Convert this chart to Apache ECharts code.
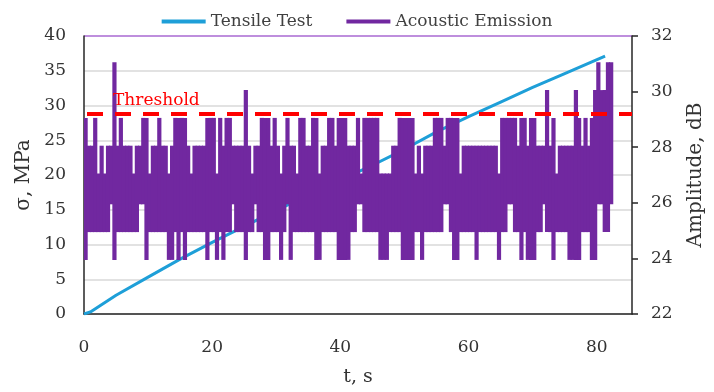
<!DOCTYPE html>
<html>
<head>
<meta charset="utf-8">
<script src="https://cdn.jsdelivr.net/npm/echarts@6/dist/echarts.min.js"></script>
<style>
html,body{margin:0;padding:0;background:#fff;}
#chart{width:714px;height:392px;}
</style>
</head>
<body>
<div id="chart"></div>
<script>
// ---- data ----
const legendNames = ['Tensile Test', 'Acoustic Emission'];
const xTicks = [0, 20, 40, 60, 80];
const leftTicks = [0, 5, 10, 15, 20, 25, 30, 35, 40];
const rightTicks = [22, 24, 26, 28, 30, 32];

// Tensile test: time (s) and stress (MPa)
const tensileTime = [0, 1, 5, 10, 15, 20, 25, 30, 35, 40, 45, 50, 55, 60, 65, 70, 75, 81.3];
const tensileStress = [0, 0.3, 2.7, 5.3, 7.9, 10.3, 12.6, 14.9, 17.1, 19.3, 21.4, 23.7, 26.2, 28.4, 30.5, 32.6, 34.6, 37.1];

// Acoustic emission amplitude (dB): minimum and maximum reached in each 0.5 s window
const aeBinWidth = 0.5;
const aeLow = [
  24,25,25,25,25,25,25,25,26,24,
  25,25,25,25,25,25,25,26,26,24,
  25,25,25,25,25,25,24,24,25,24,
  25,24,25,25,25,25,25,25,24,25,
  25,24,25,24,25,25,26,25,25,25,
  24,25,25,26,25,25,24,24,25,25,
  25,24,25,26,24,25,25,25,25,25,
  25,25,24,24,25,25,25,25,25,24,
  24,24,24,25,25,26,26,25,25,25,
  25,25,24,24,24,25,25,25,25,24,
  24,24,24,25,25,24,25,25,25,25,
  25,25,26,26,25,24,24,25,25,25,
  25,25,24,25,25,25,25,25,25,24,
  25,25,26,26,25,25,24,25,24,24,
  24,25,25,26,25,25,24,25,25,25,
  25,24,24,24,24,25,25,25,24,24,
  26,26,25,25,26
];
const aeHigh = [
  29,28,28,29,27,28,27,28,28,31,
  28,29,28,28,28,27,28,28,29,29,
  27,28,28,29,28,28,27,28,29,29,
  29,29,28,27,28,28,28,28,29,29,
  29,27,29,28,29,29,28,28,28,28,
  30,28,27,28,28,29,29,29,28,29,
  28,27,28,29,28,28,27,29,29,28,
  28,29,29,27,28,28,29,29,28,29,
  29,29,28,28,28,29,27,29,29,29,
  29,29,27,27,27,27,28,28,29,29,
  29,29,29,27,28,27,28,28,28,29,
  29,29,28,29,29,29,29,27,28,28,
  28,28,28,28,28,28,28,28,28,27,
  29,29,29,29,29,28,29,29,28,29,
  29,28,28,28,30,28,29,27,28,28,
  28,28,28,30,29,28,29,28,29,30,
  31,30,30,31,31
];

const thresholdDb = 29.2;

// ---- build series ----
const tensileData = tensileTime.map((t, i) => [t, tensileStress[i]]);
const aeData = aeLow.map((lo, i) => [i * aeBinWidth, lo, aeHigh[i]]);

const FONT = 'DejaVu Serif';
const TXT = '#333333';
const AXIS = '#262626';
const AE_COLOR = '#7128a0';
const AE_LINE = 3; // stroke thickness of the emission trace in px

const chart = echarts.init(document.getElementById('chart'), null, {renderer: 'canvas'});
chart.setOption({
  animation: false,
  backgroundColor: '#ffffff',
  legend: {
    data: legendNames,
    top: 8,
    left: 'center',
    icon: 'rect',
    itemWidth: 44,
    itemHeight: 4,
    itemGap: 34,
    textStyle: {fontFamily: FONT, fontSize: 17, color: '#404040'}
  },
  grid: {left: 84, right: 74, top: 36, bottom: 76, containLabel: false},
  xAxis: {
    type: 'value',
    min: 0,
    max: 85.5,
    interval: 20,
    name: 't, s',
    nameLocation: 'middle',
    nameGap: 54,
    nameTextStyle: {fontFamily: FONT, fontSize: 19, color: TXT},
    axisLine: {show: true, onZero: false, lineStyle: {color: AXIS, width: 1.5}},
    axisTick: {show: false},
    splitLine: {show: false},
    axisLabel: {
      fontFamily: FONT, fontSize: 17, color: TXT, margin: 25,
      formatter: v => (xTicks.indexOf(v) >= 0 ? String(v) : '')
    }
  },
  yAxis: [
    {
      type: 'value',
      min: leftTicks[0],
      max: leftTicks[leftTicks.length - 1],
      interval: 5,
      name: 'σ, MPa',
      nameLocation: 'middle',
      nameGap: 48,
      nameTextStyle: {fontFamily: FONT, fontSize: 20, color: TXT},
      axisLine: {show: true, lineStyle: {color: AXIS, width: 1.5}},
      axisTick: {show: false},
      axisLabel: {fontFamily: FONT, fontSize: 17, color: TXT, margin: 18},
      splitLine: {
        show: true,
        lineStyle: {
          width: 1.5,
          color: ['#d9d9d9','#d9d9d9','#d9d9d9','#d9d9d9','#d9d9d9','#d9d9d9','#d9d9d9','#d9d9d9','#a868d2']
        }
      }
    },
    {
      type: 'value',
      position: 'right',
      min: rightTicks[0],
      max: rightTicks[rightTicks.length - 1],
      interval: 2,
      name: 'Amplitude, dB',
      nameLocation: 'middle',
      nameGap: 54,
      nameRotate: 90,
      nameTextStyle: {fontFamily: FONT, fontSize: 20, color: TXT},
      axisLine: {show: true, lineStyle: {color: AXIS, width: 1.5}},
      axisTick: {show: true, inside: false, length: 6, lineStyle: {color: AXIS, width: 1.5}},
      axisLabel: {fontFamily: FONT, fontSize: 17, color: TXT, margin: 19},
      splitLine: {show: false}
    }
  ],
  series: [
    {
      name: legendNames[0],
      type: 'line',
      yAxisIndex: 0,
      data: tensileData,
      symbol: 'none',
      smooth: false,
      color: '#1e9fd8',
      lineStyle: {color: '#1e9fd8', width: 3},
      z: 2
    },
    {
      name: legendNames[1],
      type: 'custom',
      yAxisIndex: 1,
      data: aeData,
      color: AE_COLOR,
      itemStyle: {color: AE_COLOR},
      encode: {x: 0, y: [1, 2]},
      clip: true,
      z: 3,
      renderItem: function (params, api) {
        const t = api.value(0), lo = api.value(1), hi = api.value(2);
        const pTop = api.coord([t, hi]);
        const pBot = api.coord([t + aeBinWidth, lo]);
        return {
          type: 'rect',
          shape: {
            x: pTop[0] - 0.5,
            y: pTop[1] - AE_LINE / 2,
            width: pBot[0] - pTop[0] + 1,
            height: pBot[1] - pTop[1] + AE_LINE
          },
          style: {fill: AE_COLOR}
        };
      },
      markLine: {
        silent: true,
        symbol: 'none',
        lineStyle: {color: '#ff0000', width: 4, type: [16, 12], dashOffset: 25},
        label: {
          show: true,
          formatter: 'Threshold',
          position: 'insideStartTop',
          distance: [29, 5],
          color: '#ff0000',
          fontFamily: FONT,
          fontSize: 17
        },
        data: [{yAxis: thresholdDb}]
      }
    }
  ]
});
</script>
</body>
</html>
